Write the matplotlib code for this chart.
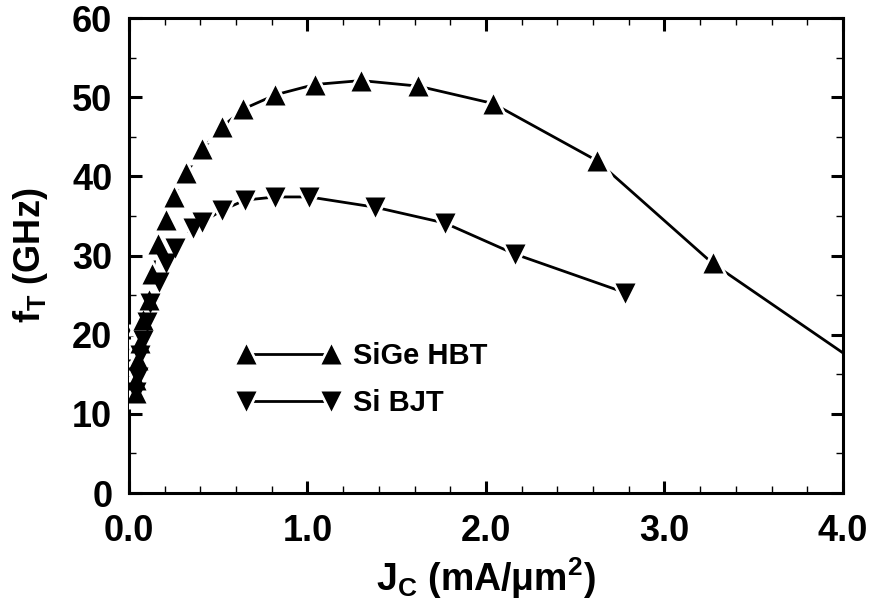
import matplotlib
matplotlib.use('Agg')
from matplotlib import pyplot as plt
from matplotlib.ticker import MultipleLocator, FormatStrFormatter

# DATA
sige_jc = [0.04, 0.04, 0.05, 0.06, 0.08, 0.11, 0.13, 0.16, 0.21, 0.25, 0.32,
           0.41, 0.52, 0.64, 0.82, 1.04, 1.30, 1.62, 2.04, 2.62, 3.27]
sige_ft = [12.6, 14.3, 16.8, 18.9, 21.8, 24.4, 27.7, 31.4, 34.5, 37.4, 40.4,
           43.4, 46.2, 48.5, 50.3, 51.6, 52.1, 51.4, 49.2, 42.0, 29.0]
# the SiGe curve runs on past the last marker up to the frame edge
sige_tail_jc = [3.27, 4.0]
sige_tail_ft = [29.0, 17.7]

si_jc = [0.04, 0.05, 0.06, 0.08, 0.10, 0.12, 0.17, 0.21, 0.26, 0.36, 0.41,
         0.52, 0.65, 0.82, 1.01, 1.38, 1.77, 2.16, 2.78]
si_ft = [12.8, 14.6, 17.4, 19.3, 21.6, 24.0, 26.6, 29.0, 30.9, 33.5, 34.2,
         35.7, 37.0, 37.4, 37.4, 36.1, 34.1, 30.2, 25.3]

labels = ['SiGe HBT', 'Si BJT']

plt.rcParams['font.family'] = ['Liberation Sans', 'DejaVu Sans']
plt.rcParams['font.weight'] = 'bold'
plt.rcParams['axes.labelweight'] = 'bold'
plt.rcParams['mathtext.fontset'] = 'custom'
plt.rcParams['mathtext.rm'] = 'Liberation Sans:bold'
plt.rcParams['mathtext.bf'] = 'Liberation Sans:bold'
plt.rcParams['mathtext.it'] = 'Liberation Sans:bold'

fig = plt.figure(figsize=(8.74, 6.11), dpi=100)
ax = fig.add_axes([0.1476, 0.1931, 0.8169, 0.7774])

ms = 14     # black marker size
halo = 23   # white gap around markers
lw = 2.0

def series(x, y, marker, tail=None):
    line, = ax.plot(x, y, color='black', lw=lw, zorder=2)
    if tail is not None:
        ax.plot(tail[0], tail[1], color='black', lw=lw, zorder=2)
    white, = ax.plot(x, y, ls='none', marker=marker, ms=halo,
                     mfc='white', mec='none', zorder=3)
    black, = ax.plot(x, y, ls='none', marker=marker, ms=ms,
                     mfc='black', mec='none', zorder=4)
    return (line, white, black)

h1 = series(sige_jc, sige_ft, '^', (sige_tail_jc, sige_tail_ft))
h2 = series(si_jc, si_ft, 'v')

leg = ax.legend([h1, h2], labels, numpoints=2, handlelength=3.5,
                frameon=False, loc='lower left', bbox_to_anchor=(0.115, 0.105),
                fontsize=21, labelspacing=0.65, handletextpad=0.45)

ax.set_xlim(0, 4.0)
ax.set_ylim(0, 60)
ax.xaxis.set_major_locator(MultipleLocator(1.0))
ax.xaxis.set_minor_locator(MultipleLocator(0.2))
ax.yaxis.set_major_locator(MultipleLocator(10))
ax.yaxis.set_minor_locator(MultipleLocator(5))
ax.xaxis.set_major_formatter(FormatStrFormatter('%.1f'))

ax.tick_params(which='both', direction='in', top=True, right=True)
ax.tick_params(which='major', length=9, width=2.2, labelsize=26)
ax.tick_params(axis='y', which='major', pad=12)
ax.tick_params(axis='x', which='major', pad=15)
ax.tick_params(which='minor', length=5, width=1.0)
for s in ax.spines.values():
    s.set_linewidth(2.2)

ax.set_xlabel(r'J$_\mathbf{C}$ (mA/μm$^\mathbf{2}$)', fontsize=27, labelpad=5)
ax.set_ylabel(r'f$_\mathbf{T}$ (GHz)', fontsize=26, labelpad=16)

plt.savefig('out.png', dpi=100)
